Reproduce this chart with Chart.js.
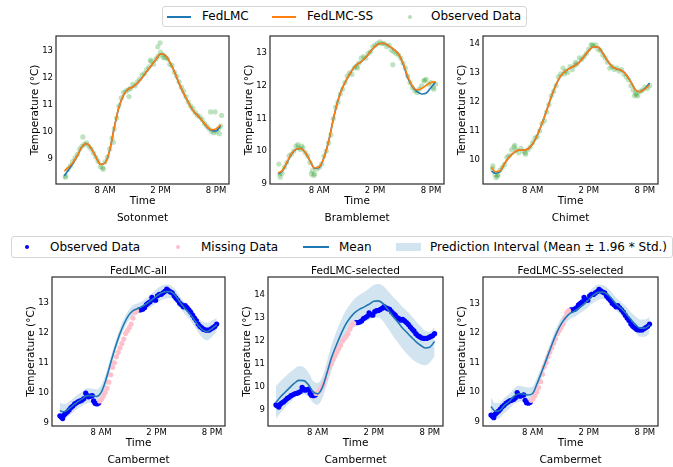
<!DOCTYPE html>
<html>
<head>
<meta charset="utf-8">
<script src="https://cdn.jsdelivr.net/npm/chart.js@4.4.0/dist/chart.umd.min.js"></script>
<style>
  html, body { margin: 0; padding: 0; background: #fff; overflow: hidden; }
  body { width: 673px; height: 467px; position: relative; font-family: 'DejaVu Sans', sans-serif; color: #000; }
  canvas { position: absolute; }
  .legend { position: absolute; box-sizing: border-box; border: 1px solid #d6d6d6; border-radius: 3px; background: #fff; font-size: 12px; }
  .legend span { position: absolute; top: 0; white-space: nowrap; }
  .legend i { position: absolute; display: block; }
  .hline { height: 2px; width: 24px; }
  .dot { width: 4px; height: 4px; border-radius: 50%; }
</style>
</head>
<body>

<div class="legend" id="topLegend" style="left:162px; top:6px; width:365px; height:21px;">
  <i class="hline" style="left:4px; top:8.5px; background:#1f77b4"></i><span style="left:39px; line-height:19px">FedLMC</span>
  <i class="hline" style="left:109px; top:8.5px; background:#ff7f0e"></i><span style="left:144px; line-height:19px">FedLMC-SS</span>
  <i class="dot" style="left:245px; top:7.5px; background:rgba(44,160,44,0.35)"></i><span style="left:268px; line-height:19px">Observed Data</span>
</div>

<div class="legend" id="bottomLegend" style="left:11px; top:236px; width:662px; height:22px;">
  <i class="dot" style="left:13px; top:8px; background:#0000ff"></i><span style="left:38px; line-height:20px">Observed Data</span>
  <i class="dot" style="left:164px; top:8px; background:#ffc0cb"></i><span style="left:189px; line-height:20px">Missing Data</span>
  <i class="hline" style="left:291px; top:9px; width:26px; background:#1f77b4"></i><span style="left:327px; line-height:20px">Mean</span>
  <i style="left:384px; top:6px; width:25px; height:8px; background:rgba(31,119,180,0.2)"></i><span style="left:418px; line-height:20px">Prediction Interval (Mean ± 1.96 * Std.)</span>
</div>

<canvas id="c1"></canvas>
<canvas id="c2"></canvas>
<canvas id="c3"></canvas>
<canvas id="c4"></canvas>
<canvas id="c5"></canvas>
<canvas id="c6"></canvas>

<script>
// shared axis ticks
const xTickValues = [8, 14, 20];
const xTickLabels = ['8 AM', '2 PM', '8 PM'];

// top row: model curves (hours of day)
const topLineHours = [3.6, 4.0, 4.5, 5.0, 5.5, 6.0, 6.5, 7.0, 7.5, 8.0, 8.5, 9.0, 9.5, 10.0, 10.5, 11.0, 11.5, 12.0,
  12.5, 13.0, 13.5, 14.0, 14.5, 15.0, 15.5, 16.0, 16.5, 17.0, 17.5, 18.0, 18.5, 19.0, 19.5, 20.0, 20.5];

const sotonFedLMC = [8.35, 8.55, 8.8, 9.1, 9.43, 9.55, 9.38, 9.07, 8.78, 8.83, 9.3, 10.15, 10.9, 11.35, 11.58, 11.65, 11.8, 12.0,
  12.23, 12.45, 12.68, 12.88, 12.84, 12.58, 12.22, 11.79, 11.42, 11.08, 10.78, 10.6, 10.4, 10.18, 10.04, 10.02, 10.22];
const sotonFedLMCSS = [8.53, 8.66, 8.84, 9.1, 9.43, 9.55, 9.38, 9.07, 8.78, 8.83, 9.3, 10.15, 10.9, 11.35, 11.58, 11.65, 11.8, 12.0,
  12.23, 12.45, 12.68, 12.88, 12.84, 12.58, 12.22, 11.79, 11.42, 11.08, 10.78, 10.6, 10.4, 10.2, 10.07, 10.1, 10.25];

const brambleFedLMC = [9.3, 9.38, 9.63, 9.9, 10.05, 10.08, 9.95, 9.7, 9.47, 9.5, 9.8, 10.3, 10.97, 11.55, 11.95, 12.23, 12.47, 12.65,
  12.74, 12.88, 13.05, 13.21, 13.3, 13.3, 13.22, 13.12, 12.98, 12.68, 12.25, 11.98, 11.82, 11.75, 11.78, 11.95, 12.12];
const brambleFedLMCSS = [9.33, 9.4, 9.65, 9.92, 10.06, 10.08, 9.95, 9.7, 9.48, 9.52, 9.8, 10.3, 10.97, 11.55, 11.95, 12.23, 12.47, 12.65,
  12.74, 12.88, 13.05, 13.21, 13.3, 13.3, 13.22, 13.12, 12.98, 12.7, 12.3, 12.0, 11.88, 11.92, 12.02, 12.1, 12.13];

const chimetFedLMC = [9.62, 9.55, 9.6, 9.88, 10.1, 10.25, 10.34, 10.34, 10.38, 10.55, 10.85, 11.25, 11.7, 12.17, 12.58, 12.88, 13.05, 13.15,
  13.23, 13.35, 13.55, 13.75, 13.88, 13.87, 13.66, 13.4, 13.2, 13.12, 13.07, 12.92, 12.68, 12.4, 12.34, 12.45, 12.64];
const chimetFedLMCSS = [9.75, 9.6, 9.63, 9.88, 10.1, 10.25, 10.34, 10.34, 10.38, 10.55, 10.85, 11.25, 11.7, 12.17, 12.58, 12.88, 13.05, 13.15,
  13.23, 13.35, 13.55, 13.75, 13.88, 13.87, 13.66, 13.4, 13.2, 13.12, 13.07, 12.92, 12.68, 12.4, 12.34, 12.43, 12.58];

// top row: observed readings
const topObsHours = [3.75, 4.0, 4.25, 4.5, 4.75, 5.0, 5.25, 5.5, 5.75, 6.0, 6.25, 6.5, 6.75, 7.0, 7.25, 7.5, 7.75,
  8.0, 8.25, 8.5, 8.75, 9.0, 9.25, 9.5, 9.75, 10.0, 10.25, 10.5, 10.75, 11.0, 11.25, 11.5, 11.75,
  12.0, 12.25, 12.5, 12.75, 13.0, 13.25, 13.5, 13.75, 14.0, 14.25, 14.5, 14.75, 15.0, 15.25, 15.5, 15.75,
  16.0, 16.25, 16.5, 16.75, 17.0, 17.25, 17.5, 17.75, 18.0, 18.25, 18.5, 18.75, 19.0, 19.25, 19.5, 19.75,
  20.0, 20.25, 20.5];

const sotonObs = [8.35, 8.6, 8.72, 8.88, 9.02, 9.15, 9.35, 9.45, 9.52, 9.58, 9.45, 9.35, 9.2, 9.05, 8.9, 8.7, 8.65,
  8.88, 9.05, 9.35, 9.75, 10.1, 10.5, 10.95, 11.25, 11.45, 11.5, 11.55, 11.6, 11.75, 11.7, 11.85, 11.95,
  12.1, 12.15, 12.3, 12.4, 12.6, 12.5, 12.7, 12.8, 12.95, 12.85, 12.75, 12.7, 12.5, 12.45, 12.2, 12.05,
  11.85, 11.65, 11.5, 11.3, 11.1, 10.95, 10.85, 10.7, 10.6, 10.55, 10.45, 10.3, 10.2, 10.1, 10.0, 9.95,
  10.0, 10.1, 10.2];
const sotonExtraHours = [3.7, 5.6, 7.8, 8.9, 10.6, 12.9, 13.7, 13.95, 14.3, 19.4, 19.9, 20.35, 20.6];
const sotonExtraObs = [8.3, 9.8, 8.6, 9.6, 11.3, 12.65, 13.15, 13.3, 12.75, 10.73, 10.73, 9.92, 10.6];

const brambleObs = [9.3, 9.32, 9.5, 9.65, 9.85, 9.9, 10.0, 10.15, 10.1, 10.05, 10.1, 9.95, 9.85, 9.65, 9.4, 9.3, 9.45,
  9.5, 9.6, 9.85, 10.0, 10.25, 10.5, 11.0, 11.35, 11.5, 11.75, 11.9, 12.1, 12.3, 12.4, 12.35, 12.55,
  12.6, 12.7, 12.85, 12.9, 12.85, 13.0, 13.05, 13.2, 13.25, 13.3, 13.35, 13.3, 13.3, 13.2, 13.25, 13.1,
  13.05, 13.0, 12.95, 12.85, 12.7, 12.55, 12.3, 12.1, 11.95, 11.85, 11.8, 11.9, 12.0, 12.15, 12.2, 12.05,
  12.1, 11.95, 12.05];
const brambleExtraHours = [3.65, 3.8, 5.7, 6.1, 7.15, 7.4, 12.1, 15.9, 19.3, 20.3];
const brambleExtraObs = [9.6, 9.2, 10.2, 10.15, 9.3, 9.25, 12.55, 12.65, 12.18, 11.9];

const chimetObs = [9.8, 9.5, 9.45, 9.65, 9.75, 9.85, 10.1, 10.15, 10.35, 10.45, 10.35, 10.25, 10.4, 10.3, 10.2, 10.35, 10.45,
  10.6, 10.75, 10.8, 11.0, 11.25, 11.35, 11.65, 11.9, 12.2, 12.35, 12.55, 12.85, 12.95, 13.15, 13.05, 13.0,
  13.2, 13.1, 13.25, 13.3, 13.5, 13.45, 13.55, 13.65, 13.8, 13.95, 13.9, 13.95, 13.8, 13.75, 13.6, 13.5,
  13.35, 13.15, 13.2, 13.1, 13.15, 13.05, 13.1, 12.95, 12.85, 12.75, 12.55, 12.4, 12.3, 12.2, 12.35, 12.4,
  12.5, 12.45, 12.55];
const chimetExtraHours = [3.7, 4.1, 4.3, 6.1, 7.2, 11.4, 12.6, 14.4, 18.9, 19.1];
const chimetExtraObs = [9.7, 9.4, 9.5, 10.5, 10.25, 12.95, 13.35, 13.95, 12.2, 12.25];

// bottom row: Cambermet
const camObsHours = [3.55, 3.7, 3.85, 4.0, 4.15, 4.35, 4.55, 4.75, 4.95, 5.15, 5.35, 5.55, 5.75, 5.95, 6.15, 6.35,
  6.5, 6.65, 6.85, 7.05, 7.2, 7.35, 7.55, 7.75,
  12.1, 12.3, 12.5, 12.7, 12.9, 13.1, 13.3, 13.5, 13.7, 13.9, 14.1, 14.3, 14.5, 14.7, 14.9, 15.1, 15.3, 15.5,
  15.7, 15.9, 16.1, 16.3, 16.5, 16.7, 16.9, 17.1, 17.3, 17.5, 17.7, 17.9, 18.1, 18.3, 18.5, 18.7, 18.9, 19.1,
  19.3, 19.5, 19.7, 19.9, 20.1, 20.3, 20.5];
const camObs = [9.22, 9.18, 9.13, 9.25, 9.3, 9.35, 9.42, 9.5, 9.55, 9.62, 9.66, 9.7, 9.72, 9.75, 9.8, 9.98,
  9.9, 9.86, 9.88, 9.9, 9.72, 9.64, 9.62, 9.65,
  12.78, 12.78, 12.8, 12.85, 12.95, 13.0, 13.05, 13.2, 13.12, 13.1, 13.25, 13.3, 13.3, 13.35, 13.4, 13.47, 13.42, 13.38,
  13.35, 13.25, 13.17, 13.1, 13.0, 12.95, 12.88, 12.92, 12.85, 12.78, 12.7, 12.6, 12.5, 12.42, 12.3, 12.22, 12.17, 12.12,
  12.1, 12.1, 12.1, 12.14, 12.18, 12.22, 12.3];
const camMissHours = [7.85, 8.05, 8.25, 8.45, 8.65, 8.85, 9.05, 9.25, 9.45, 9.65, 9.85, 10.05, 10.25, 10.45, 10.65,
  10.85, 11.05, 11.25, 11.45, 11.65, 11.85];
const camMiss = [9.72, 9.78, 9.88, 10.0, 10.15, 10.35, 10.6, 10.85, 11.0, 11.2, 11.35, 11.5, 11.65, 11.8, 11.98,
  12.08, 12.18, 12.3, 12.5, 12.68, 12.75];

const camGridHours = [3.55, 4.0, 4.5, 5.0, 5.5, 6.0, 6.5, 7.0, 7.5, 8.0, 8.5, 9.0, 9.5, 10.0, 10.5, 11.0, 11.5, 12.0,
  12.5, 13.0, 13.5, 14.0, 14.5, 15.0, 15.5, 16.0, 16.5, 17.0, 17.5, 18.0, 18.5, 19.0, 19.5, 20.0, 20.5];

const allMean = [9.39, 9.36, 9.45, 9.58, 9.7, 9.8, 9.9, 9.9, 9.87, 10.0, 10.4, 10.95, 11.48, 11.94, 12.32, 12.6, 12.76, 12.82,
  12.9, 13.0, 13.11, 13.24, 13.34, 13.39, 13.39, 13.27, 13.05, 12.85, 12.68, 12.48, 12.26, 12.1, 12.05, 12.15, 12.27];
const allStd = [0.14, 0.13, 0.12, 0.12, 0.12, 0.12, 0.13, 0.12, 0.12, 0.12, 0.11, 0.10, 0.09, 0.09, 0.09, 0.09, 0.09, 0.09,
  0.09, 0.10, 0.11, 0.12, 0.12, 0.12, 0.11, 0.10, 0.10, 0.10, 0.10, 0.11, 0.12, 0.14, 0.15, 0.14, 0.12];

const selMean = [9.33, 9.55, 9.76, 9.96, 10.15, 10.28, 10.27, 10.1, 9.8, 9.7, 9.97, 10.6, 11.28, 11.8, 12.28, 12.7, 13.0, 13.22,
  13.36, 13.46, 13.57, 13.7, 13.72, 13.6, 13.35, 13.08, 12.84, 12.58, 12.37, 12.16, 11.96, 11.8, 11.68, 11.72, 11.96];
const selStd = [0.36, 0.35, 0.34, 0.33, 0.32, 0.31, 0.30, 0.27, 0.24, 0.24, 0.24, 0.26, 0.28, 0.30, 0.30, 0.30, 0.30, 0.31,
  0.32, 0.33, 0.35, 0.36, 0.37, 0.39, 0.41, 0.43, 0.45, 0.46, 0.47, 0.47, 0.45, 0.42, 0.38, 0.34, 0.32];

const ssSelMean = [9.51, 9.35, 9.38, 9.55, 9.68, 9.85, 9.94, 9.93, 9.9, 9.95, 10.3, 10.7, 11.12, 11.55, 11.95, 12.27, 12.5, 12.66,
  12.74, 12.85, 12.97, 13.13, 13.28, 13.37, 13.38, 13.3, 13.14, 12.95, 12.82, 12.65, 12.45, 12.28, 12.16, 12.16, 12.27];
const ssSelStd = [0.15, 0.14, 0.13, 0.13, 0.13, 0.13, 0.14, 0.13, 0.13, 0.12, 0.11, 0.10, 0.10, 0.10, 0.10, 0.10, 0.10, 0.10,
  0.10, 0.10, 0.11, 0.12, 0.13, 0.13, 0.12, 0.11, 0.11, 0.11, 0.11, 0.12, 0.13, 0.14, 0.15, 0.15, 0.14];

Chart.defaults.font.family = "'DejaVu Sans', sans-serif";
Chart.defaults.color = '#000';

const blue = '#1f77b4';
const orange = '#ff7f0e';
const green = 'rgba(44,160,44,0.3)';
const band = 'rgba(31,119,180,0.2)';

function pts(xs, ys) {
  return xs.map((x, i) => ({ x: x, y: ys[i] }));
}

// draws the box round the plot area, like matplotlib spines
const framePlugin = {
  id: 'frame',
  afterDatasetsDraw(chart) {
    const a = chart.chartArea;
    const ctx = chart.ctx;
    ctx.save();
    ctx.strokeStyle = '#2b2b2b';
    ctx.lineWidth = 1.2;
    ctx.strokeRect(a.left, a.top, a.right - a.left, a.bottom - a.top);
    ctx.restore();
  }
};

function topSets(obs, extraHours, extraObs, fed, fedSS) {
  return [
    { data: pts(topObsHours, obs).concat(pts(extraHours, extraObs)), showLine: false, pointRadius: 2.6,
      pointBorderWidth: 0, backgroundColor: green, pointBackgroundColor: green, order: 3 },
    { data: pts(topLineHours, fed), borderColor: blue, borderWidth: 1.6, pointRadius: 0,
      cubicInterpolationMode: 'monotone', order: 2 },
    { data: pts(topLineHours, fedSS), borderColor: orange, borderWidth: 1.6, pointRadius: 0,
      cubicInterpolationMode: 'monotone', order: 1 }
  ];
}

function bottomSets(mean, std) {
  const upper = mean.map((m, i) => m + 1.96 * std[i]);
  const lower = mean.map((m, i) => m - 1.96 * std[i]);
  return [
    { data: pts(camGridHours, upper), fill: '+1', backgroundColor: band, borderColor: 'transparent', borderWidth: 0,
      pointRadius: 0, cubicInterpolationMode: 'monotone', order: 5 },
    { data: pts(camGridHours, lower), fill: false, borderColor: 'transparent', borderWidth: 0,
      pointRadius: 0, cubicInterpolationMode: 'monotone', order: 5 },
    { data: pts(camObsHours, camObs), showLine: false, pointRadius: 2.6, pointBorderWidth: 0,
      backgroundColor: '#0000ff', pointBackgroundColor: '#0000ff', order: 4 },
    { data: pts(camMissHours, camMiss), showLine: false, pointRadius: 2.6, pointBorderWidth: 0,
      backgroundColor: '#ffc0cb', pointBackgroundColor: '#ffc0cb', order: 3 },
    { data: pts(camGridHours, mean), borderColor: blue, borderWidth: 1.6, pointRadius: 0,
      cubicInterpolationMode: 'monotone', order: 1 }
  ];
}

function makeChart(id, spec) {
  const cv = document.getElementById(id);
  const [pl, pt, pr, pb] = spec.plot;
  const topSpace = spec.title ? 17 : 10;
  cv.width = 60 + (pr - pl) + 20;
  cv.height = topSpace + (pb - pt) + 24 + 20;
  cv.style.left = (pl - 60) + 'px';
  cv.style.top = (pt - topSpace) + 'px';

  new Chart(cv, {
    type: 'line',
    data: { datasets: spec.datasets },
    options: {
      responsive: false,
      animation: false,
      events: [],
      layout: { padding: { top: spec.title ? 0 : 10, right: 20, left: 0, bottom: 0 } },
      plugins: {
        legend: { display: false },
        tooltip: { enabled: false },
        title: {
          display: !!spec.title, text: spec.title || '', position: 'top', fullSize: false,
          font: { size: 10.5, weight: 'normal', lineHeight: 1 }, padding: { top: 6.5, bottom: 0 }
        },
        subtitle: {
          display: true, text: spec.station, position: 'bottom', fullSize: false,
          font: { size: 10.5, lineHeight: 1.2 }, padding: { top: 4, bottom: 3.4 }
        }
      },
      scales: {
        x: {
          type: 'linear', min: 2.7, max: 21.4,
          grid: { display: false, drawTicks: false },
          border: { display: false },
          afterBuildTicks: s => { s.ticks = xTickValues.map(v => ({ value: v })); },
          afterFit: s => { s.height = 24; },
          ticks: { callback: (v, i) => xTickLabels[i], font: { size: 8.5 }, padding: 1.5, maxRotation: 0, autoSkip: false },
          title: { display: true, text: 'Time', font: { size: 10.5 }, padding: 0 }
        },
        y: {
          type: 'linear', min: spec.yMin, max: spec.yMax,
          grid: { display: false, drawTicks: false },
          border: { display: false },
          afterBuildTicks: s => { s.ticks = spec.yTicks.map(v => ({ value: v })); },
          afterFit: s => { s.width = 60; },
          ticks: { font: { size: 8.5 }, padding: 3 },
          title: { display: true, text: 'Temperature (°C)', font: { size: 10.5 }, padding: { top: 32.7, bottom: 0 } }
        }
      }
    },
    plugins: [framePlugin]
  });
}

makeChart('c1', { plot: [56, 36, 229, 184], yMin: 8.05, yMax: 13.55, yTicks: [9, 10, 11, 12, 13], station: 'Sotonmet',
  datasets: topSets(sotonObs, sotonExtraHours, sotonExtraObs, sotonFedLMC, sotonFedLMCSS) });
makeChart('c2', { plot: [270, 36, 444, 184], yMin: 8.99, yMax: 13.53, yTicks: [9, 10, 11, 12, 13], station: 'Bramblemet',
  datasets: topSets(brambleObs, brambleExtraHours, brambleExtraObs, brambleFedLMC, brambleFedLMCSS) });
makeChart('c3', { plot: [483, 36, 658, 184], yMin: 9.18, yMax: 14.25, yTicks: [10, 11, 12, 13, 14], station: 'Chimet',
  datasets: topSets(chimetObs, chimetExtraHours, chimetExtraObs, chimetFedLMC, chimetFedLMCSS) });

makeChart('c4', { plot: [52, 277, 225, 426], yMin: 8.88, yMax: 13.88, yTicks: [9, 10, 11, 12, 13],
  title: 'FedLMC-all', station: 'Cambermet', datasets: bottomSets(allMean, allStd) });
makeChart('c5', { plot: [268, 277, 443, 426], yMin: 8.31, yMax: 14.75, yTicks: [9, 10, 11, 12, 13, 14],
  title: 'FedLMC-selected', station: 'Cambermet', datasets: bottomSets(selMean, selStd) });
makeChart('c6', { plot: [483, 277, 658, 426], yMin: 8.85, yMax: 13.89, yTicks: [9, 10, 11, 12, 13],
  title: 'FedLMC-SS-selected', station: 'Cambermet', datasets: bottomSets(ssSelMean, ssSelStd) });
</script>
</body>
</html>
